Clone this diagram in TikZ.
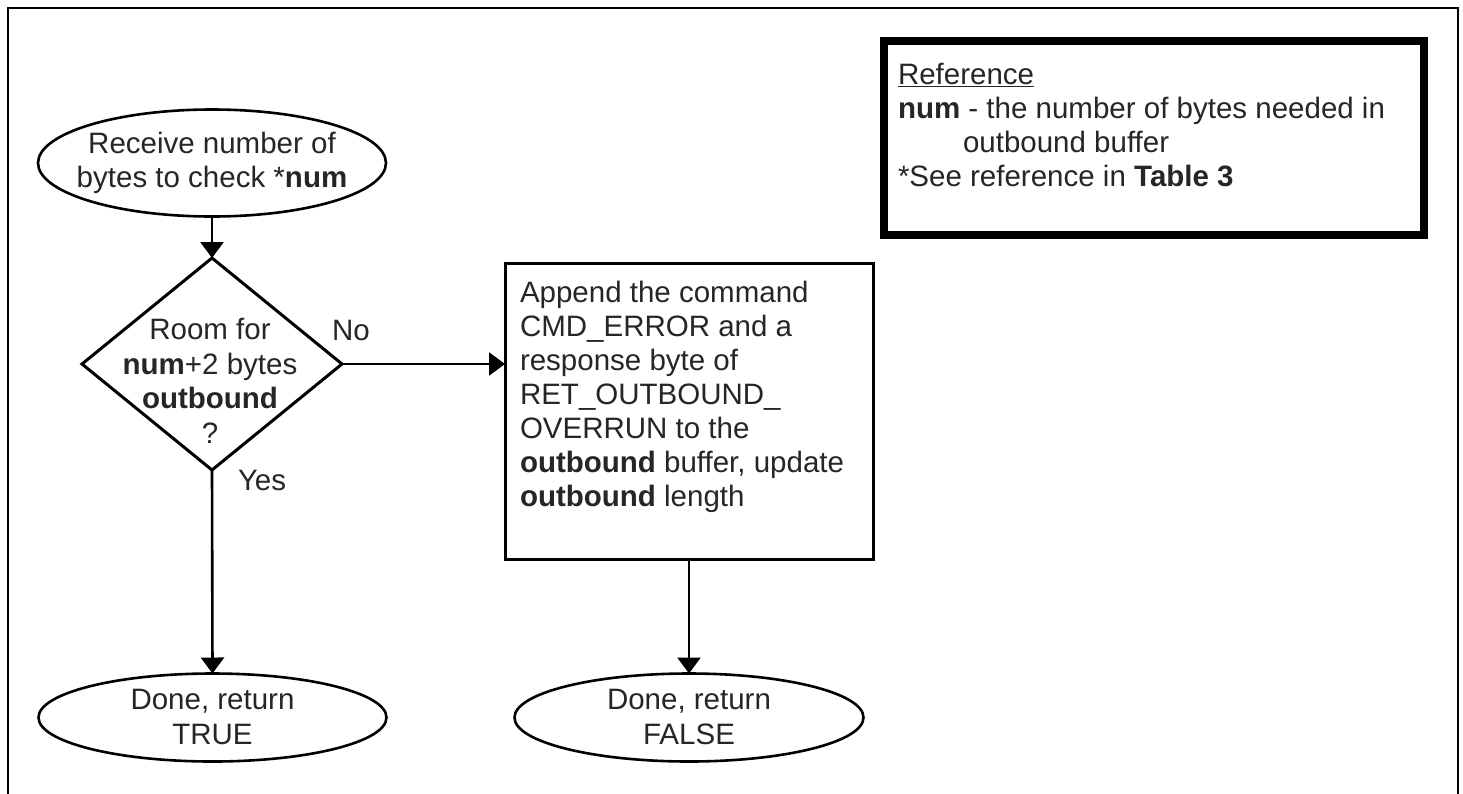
\documentclass[tikz,border=0pt]{standalone}
\usepackage{fontspec}
\setmainfont{Liberation Sans}
\usetikzlibrary{shapes.geometric,arrows.meta}
\begin{document}
\begin{tikzpicture}[x=1pt,y=-1pt,
  every node/.style={inner sep=0pt, outer sep=0pt},
  txt/.style={font=\fontsize{29.5}{34.5}\selectfont, text=black!85},
  ell/.style={ellipse, draw=black, line width=2.6pt},
  boxline/.style={draw=black, line width=3pt},
  arr/.style={line width=2.6pt, -{Triangle[width=23pt,length=16pt]}}]
\useasboundingbox[fill=white] (0,0) rectangle (1463,793);
% outer frame (open at the bottom)
\draw[line width=2.5pt] (8,800) -- (8,8) -- (1458,8) -- (1458,800);

% shapes
\node[ell, minimum width=348pt, minimum height=107pt] (start) at (212,163) {};
\node[diamond, boxline, minimum width=260pt, minimum height=212pt] (dia) at (212,364) {};
\node[boxline, minimum width=368pt, minimum height=296pt] (act) at (689,411) {};
\node[ell, minimum width=348pt, minimum height=88pt] (done1) at (212.5,717.5) {};
\node[ell, minimum width=349pt, minimum height=88pt] (done2) at (689,717.5) {};
\node[draw=black, line width=8pt, minimum width=540pt, minimum height=194pt] (ref) at (1154,138) {};

% texts
\node[txt, align=center] (t1) at (212,163) {Receive number of\\bytes to check *\textbf{num}};
\node[txt, align=center] (t2) at (210,381) {Room for\\\textbf{num}+2 bytes\\\textbf{outbound}\\?};
\node[txt, font=\fontsize{29.5}{34}\selectfont, align=left, anchor=north west] (t3) at (520,281.5)
  {Append the command\\CMD\_ERROR and a\\response byte of\\RET\_OUTBOUND\_\\OVERRUN to the\\\textbf{outbound} buffer, update\\\textbf{outbound} length};
\node[txt, align=center] (t4) at (212.5,717) {Done, return\\TRUE};
\node[txt, align=center] (t5) at (689,717) {Done, return\\FALSE};
\node[txt, anchor=base west] (no) at (332,340) {No};
\node[txt, anchor=base west] (yes) at (238,490) {Yes};
\node[txt, font=\fontsize{29.5}{34}\selectfont, align=left, anchor=north west] (t6) at (898,63)
  {\underline{Reference}\\\textbf{num} - the number of bytes needed in\\\hspace*{65pt}outbound buffer\\{}*See reference in \textbf{Table 3}};

% connectors
\draw[arr] (start.south) -- (dia.north);
\draw[arr] (dia.east) -- (dia.east -| act.west);
\draw[arr] (dia.south) -- (done1.north);
\draw[arr] (act.south) -- (done2.north);
\end{tikzpicture}
\end{document}
